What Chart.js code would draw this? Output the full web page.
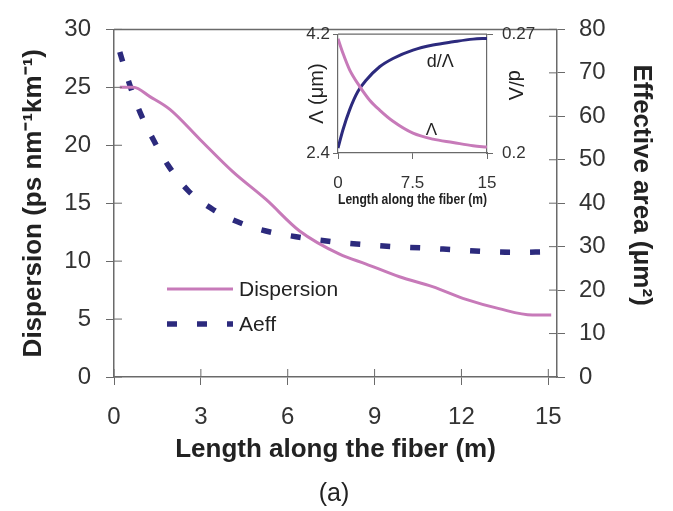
<!DOCTYPE html>
<html><head><meta charset="utf-8">
<script src="https://cdn.jsdelivr.net/npm/chart.js@4/dist/chart.umd.min.js"></script>
<style>
html,body{margin:0;padding:0;background:#fff;}
#wrap{position:relative;width:673px;height:511px;overflow:hidden;}
#main{position:absolute;left:0;top:0;}
#inset{position:absolute;left:290px;top:15px;}
#cap{position:absolute;left:0;width:668px;top:477px;text-align:center;font:25px "Liberation Sans",Arial,sans-serif;color:#222;line-height:30px;}
</style></head><body>
<div id="wrap">
<canvas id="main" width="673" height="511"></canvas>
<canvas id="inset" width="252" height="195"></canvas>
<div id="cap">(a)</div>
</div>
<script>
// ---- main chart data ----
const xTicks = [0, 3, 6, 9, 12, 15];
const dispX = [0.2, 0.67, 1.24, 1.93, 2.97, 4.11, 5.26, 6.41, 7.79, 8.71, 9.86, 11.0, 12.16, 13.3, 14.45, 15.1];
const dispY = [25.0, 25.0, 24.2, 23.1, 20.5, 17.7, 15.3, 12.6, 10.6, 9.75, 8.65, 7.8, 6.7, 5.9, 5.35, 5.35];
const aeffX = [0.2, 0.55, 0.9, 1.36, 1.87, 2.56, 3.43, 4.46, 5.44, 6.47, 7.56, 8.6, 9.63, 10.67, 11.7, 12.73, 13.77, 15.0];
const aeffY = [74.8, 67.1, 60.9, 54.6, 48.7, 42.9, 38.5, 35.2, 33.3, 32.1, 31.1, 30.5, 30.0, 29.7, 29.3, 28.9, 28.7, 28.8];

// ---- inset data ----
const insetXTicks = [0, 7.5, 15];
const insetLeftTicks = [2.4, 4.2];
const insetRightTicks = [0.2, 0.27];
const lamX = [0, 0.5, 1.17, 2.18, 3.19, 4.19, 5.54, 7.55, 9.56, 11.58, 13.59, 15];
const lamY = [4.13, 3.91, 3.66, 3.41, 3.20, 3.05, 2.88, 2.70, 2.61, 2.56, 2.51, 2.49];
const dlX = [0, 0.5, 1.17, 2.0, 2.85, 4.19, 5.54, 7.55, 9.56, 11.58, 13.59, 15];
const dlY = [0.2029, 0.2137, 0.2254, 0.2362, 0.243, 0.2508, 0.2557, 0.2606, 0.2636, 0.2655, 0.2671, 0.2675];

const PINK = '#c77ab9';
const NAVY = '#2c2a7d';
const AXIS = '#6a6a6a';
const FONT = '"Liberation Sans", Arial, sans-serif';
const pts = (xs, ys) => xs.map((x, i) => ({x, y: ys[i]}));
const setTicks = arr => s => { s.ticks = arr.map(v => ({value: v})); };

const boxPlugin = {
  id: 'box',
  afterDraw(chart, args, opts) {
    const {ctx, chartArea: a} = chart;
    ctx.save();
    ctx.strokeStyle = AXIS;
    ctx.lineWidth = opts.lw || 1.5;
    ctx.beginPath();
    ctx.moveTo(a.left, a.top); ctx.lineTo(a.right, a.top);
    ctx.stroke();
    const inner = opts.inner || 0;
    if (inner) {
      ctx.lineWidth = 1;
      for (const id of Object.keys(chart.scales)) {
        const s = chart.scales[id];
        s.ticks.forEach(t => {
          const p = s.getPixelForValue(t.value);
          ctx.beginPath();
          if (s.position === 'bottom') { ctx.moveTo(p, a.bottom); ctx.lineTo(p, a.bottom - inner); }
          else if (s.position === 'left') { ctx.moveTo(a.left, p); ctx.lineTo(a.left + inner, p); }
          else { ctx.moveTo(a.right, p); ctx.lineTo(a.right - inner, p); }
          ctx.stroke();
        });
      }
    }
    ctx.restore();
  }
};

const legendPlugin = {
  id: 'mylegend',
  afterDraw(chart) {
    const {ctx} = chart;
    const items = chart.data.datasets;
    ctx.save();
    ctx.font = '21px ' + FONT;
    ctx.fillStyle = '#222';
    ctx.textBaseline = 'middle';
    const rows = [289, 324];
    items.forEach((ds, i) => {
      const y = rows[i];
      ctx.strokeStyle = ds.borderColor;
      ctx.lineWidth = ds.borderWidth;
      ctx.setLineDash(ds.borderDash || []);
      ctx.beginPath(); ctx.moveTo(167, y); ctx.lineTo(233, y); ctx.stroke();
      ctx.setLineDash([]);
      ctx.fillText(ds.label, 239, y + 1);
    });
    ctx.restore();
  }
};

new Chart(document.getElementById('main'), {
  type: 'line',
  data: {
    datasets: [
      {label: 'Dispersion', data: pts(dispX, dispY), yAxisID: 'y', borderColor: PINK, borderWidth: 3, pointRadius: 0, cubicInterpolationMode: 'monotone', fill: false},
      {label: 'Aeff', data: pts(aeffX, aeffY), yAxisID: 'y2', borderColor: NAVY, borderWidth: 5.5, borderDash: [10, 20], pointRadius: 0, cubicInterpolationMode: 'monotone', fill: false}
    ]
  },
  options: {
    responsive: false, animation: false, devicePixelRatio: 1,
    layout: {padding: {top: 13, left: 0, right: 0, bottom: 0}},
    plugins: {legend: {display: false}, tooltip: {enabled: false}, box: {inner: 8, lw: 1.5}},
    scales: {
      x: {
        type: 'linear', min: 0, max: 15.3, position: 'bottom',
        afterBuildTicks: setTicks(xTicks),
        afterFit: s => { s.height = 134; },
        grid: {drawOnChartArea: false, tickLength: 8, color: AXIS},
        border: {color: AXIS, width: 1.5},
        ticks: {font: {size: 24, family: FONT}, color: '#333', padding: 18, maxRotation: 0, callback: v => String(v)},
        title: {display: true, text: 'Length along the fiber (m)', font: {size: 26, weight: 'bold', family: FONT}, color: '#222', padding: {top: 0, bottom: 46}}
      },
      y: {
        type: 'linear', min: 0, max: 30, position: 'left',
        ticks: {stepSize: 5, font: {size: 24, family: FONT}, color: '#333', padding: 15},
        afterFit: s => { s.width = 114; },
        grid: {drawOnChartArea: false, tickLength: 8, color: AXIS},
        border: {color: AXIS, width: 1.5},
        title: {display: true, text: 'Dispersion (ps nm\u207B\u00B9km\u207B\u00B9)', font: {size: 26, weight: 'bold', family: FONT}, color: '#222', padding: {top: 18, bottom: 0}}
      },
      y2: {
        type: 'linear', min: 0, max: 80, position: 'right',
        ticks: {stepSize: 10, font: {size: 24, family: FONT}, color: '#333', padding: 14},
        afterFit: s => { s.width = 116; },
        grid: {drawOnChartArea: false, tickLength: 8, color: AXIS},
        border: {color: AXIS, width: 1.5},
        title: {display: true, text: 'Effective area (\u03BCm\u00B2)     ', font: {size: 26, weight: 'bold', family: FONT}, color: '#222', padding: {top: 16, bottom: 0}}
      }
    }
  },
  plugins: [boxPlugin, legendPlugin]
});

const insetLabels = {
  id: 'insetLabels',
  afterDraw(chart) {
    const {ctx, scales} = chart;
    ctx.save();
    ctx.fillStyle = '#222';
    ctx.textAlign = 'center';
    ctx.textBaseline = 'middle';
    ctx.font = '18px ' + FONT;
    ctx.fillText('d/\u039B', scales.x.getPixelForValue(10.3), scales.y2.getPixelForValue(0.2537));
    ctx.font = '17px ' + FONT;
    ctx.fillText('\u039B', scales.x.getPixelForValue(9.4), scales.y.getPixelForValue(2.75));
    ctx.restore();
  }
};

new Chart(document.getElementById('inset'), {
  type: 'line',
  data: {
    datasets: [
      {label: '\u039B', data: pts(lamX, lamY), yAxisID: 'y', borderColor: PINK, borderWidth: 3, pointRadius: 0, cubicInterpolationMode: 'monotone', fill: false},
      {label: 'd/\u039B', data: pts(dlX, dlY), yAxisID: 'y2', borderColor: NAVY, borderWidth: 3, pointRadius: 0, cubicInterpolationMode: 'monotone', fill: false}
    ]
  },
  options: {
    responsive: false, animation: false, devicePixelRatio: 1,
    layout: {padding: {top: 19, left: 0, right: 0, bottom: 0}},
    plugins: {legend: {display: false}, tooltip: {enabled: false}, box: {inner: 0, lw: 1.2}},
    scales: {
      x: {
        type: 'linear', min: 0, max: 15, position: 'bottom',
        afterBuildTicks: setTicks(insetXTicks),
        afterFit: s => { s.height = 57; },
        grid: {drawOnChartArea: false, tickLength: 6, color: AXIS},
        border: {color: AXIS, width: 1.2},
        ticks: {font: {size: 17, family: FONT}, color: '#333', padding: 14, maxRotation: 0, callback: v => String(v)},
        title: {display: true, text: 'Length along the fiber (m)', font: {size: 15, weight: 'bold', family: FONT}, color: '#222', padding: {top: 0, bottom: 1}}
      },
      y: {
        type: 'linear', min: 2.4, max: 4.2, position: 'left',
        afterBuildTicks: setTicks(insetLeftTicks),
        afterFit: s => { s.width = 48; },
        grid: {drawOnChartArea: false, tickLength: 5, color: AXIS},
        border: {color: AXIS, width: 1.2},
        ticks: {font: {size: 17, family: FONT}, color: '#333', padding: 3, callback: v => String(v)},
        title: {display: true, text: '\u039B (\u03BCm)', font: {size: 20, family: FONT}, color: '#222', padding: {top: 15, bottom: 0}}
      },
      y2: {
        type: 'linear', min: 0.2, max: 0.27, position: 'right',
        afterBuildTicks: setTicks(insetRightTicks),
        afterFit: s => { s.width = 55; },
        grid: {drawOnChartArea: false, tickLength: 6, color: AXIS},
        border: {color: AXIS, width: 1.2},
        ticks: {font: {size: 17, family: FONT}, color: '#333', padding: 9, callback: v => String(v)},
        title: {display: true, text: 'd/\u039B   ', font: {size: 20, family: FONT}, color: '#222', padding: {top: 15, bottom: 0}}
      }
    }
  },
  plugins: [boxPlugin, insetLabels]
});
</script>
</body></html>
